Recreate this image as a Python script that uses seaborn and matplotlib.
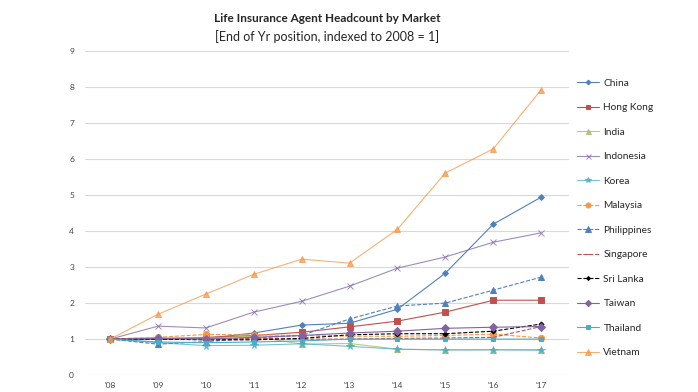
import pandas as pd
import matplotlib
matplotlib.use("Agg")
import matplotlib.pyplot as plt
import seaborn as sns

# years and series (indexed to 2008 = 1)
years = ["'08", "'09", "'10", "'11", "'12", "'13", "'14", "'15", "'16", "'17"]
china = [1.0, 1.0, 1.02, 1.17, 1.39, 1.44, 1.83, 2.83, 4.19, 4.94]
hong_kong = [1.0, 1.0, 1.05, 1.1, 1.19, 1.34, 1.5, 1.75, 2.08, 2.08]
india = [1.0, 1.05, 1.03, 1.08, 0.86, 0.88, 0.72, 0.7, 0.71, 0.71]
indonesia = [1.0, 1.36, 1.31, 1.75, 2.05, 2.47, 2.97, 3.28, 3.69, 3.95]
korea = [1.0, 0.9, 0.82, 0.83, 0.87, 0.8, 0.72, 0.7, 0.7, 0.69]
malaysia = [1.0, 1.05, 1.13, 1.12, 1.1, 1.08, 1.08, 1.1, 1.14, 1.03]
philippines = [1.0, 0.86, 0.93, 1.03, 1.1, 1.56, 1.92, 2.0, 2.36, 2.72]
singapore = [1.0, 1.0, 1.0, 1.02, 1.0, 1.0, 1.02, 1.03, 1.05, 1.35]
sri_lanka = [1.0, 1.0, 0.98, 0.98, 1.02, 1.12, 1.15, 1.15, 1.22, 1.42]
taiwan = [1.0, 1.02, 1.0, 1.05, 1.1, 1.17, 1.22, 1.3, 1.33, 1.35]
thailand = [1.0, 0.92, 0.9, 0.92, 0.95, 1.0, 1.0, 1.0, 1.0, 1.0]
vietnam = [1.0, 1.69, 2.25, 2.8, 3.22, 3.11, 4.05, 5.61, 6.28, 7.92]

markets = ["China", "Hong Kong", "India", "Indonesia", "Korea", "Malaysia",
           "Philippines", "Singapore", "Sri Lanka", "Taiwan", "Thailand", "Vietnam"]
values = [china, hong_kong, india, indonesia, korea, malaysia,
          philippines, singapore, sri_lanka, taiwan, thailand, vietnam]

# colour, marker, marker size, linestyle
styles = {
    "China": ("#4F81BD", "D", 3, "-"),
    "Hong Kong": ("#C0504D", "s", 4, "-"),
    "India": ("#9BBB59", "^", 4.5, "-"),
    "Indonesia": ("#8064A2", "x", 4.5, "-"),
    "Korea": ("#4BACC6", "*", 5.5, "-"),
    "Malaysia": ("#F79646", "o", 4.5, "--"),
    "Philippines": ("#4F81BD", "^", 5, "--"),
    "Singapore": ("#C0504D", "_", 5, "--"),
    "Sri Lanka": ("#000000", "D", 2.5, "--"),
    "Taiwan": ("#8064A2", "D", 4, "-"),
    "Thailand": ("#4BACC6", "s", 3.5, "-"),
    "Vietnam": ("#F79646", "^", 5, "-"),
}

rows = []
for m, vals in zip(markets, values):
    for i, v in enumerate(vals):
        rows.append({"market": m, "x": i, "value": v})
df = pd.DataFrame(rows)

sns.set_style("white")
plt.rcParams["font.family"] = ["Lato", "DejaVu Sans"]

fig = plt.figure(figsize=(6.98, 3.92), dpi=100)
ax = fig.add_axes([0.122, 0.043, 0.693, 0.827])

for m in markets:
    c, mk, ms, ls = styles[m]
    sub = df[df["market"] == m]
    alpha = 0.75 if m in ("Vietnam", "Indonesia", "India", "Korea") else 1.0
    sns.lineplot(data=sub, x="x", y="value", ax=ax, color=c, marker=mk,
                 markersize=ms, linestyle=ls, linewidth=0.8, label=m,
                 markeredgecolor=c, markeredgewidth=0.7, alpha=alpha)

ax.set_xlim(-0.52, 9.58)
ax.set_ylim(0, 9)
ax.set_yticks(range(10))
ax.set_xticks(range(len(years)))
ax.set_xticklabels(years)
ax.tick_params(axis="both", length=0, labelsize=6, colors="#444444")
ax.tick_params(axis="y", pad=8)
ax.tick_params(axis="x", pad=5)
ax.grid(axis="y", color="#d9d9d9", linewidth=0.8)
ax.set_axisbelow(True)
for s in ax.spines.values():
    s.set_visible(False)
ax.set_xlabel("")
ax.set_ylabel("")

ax.text(0.5, 1.10, "Life Insurance Agent Headcount by Market", transform=ax.transAxes,
        ha="center", va="center", fontsize=8.5, fontweight="bold")
ax.text(0.5, 1.045, "[End of Yr position, indexed to 2008 = 1]", transform=ax.transAxes,
        ha="center", va="center", fontsize=9)

handles, labels = ax.get_legend_handles_labels()
ax.legend_.remove()
fig.legend(handles, labels, loc="upper left", bbox_to_anchor=(0.813, 0.823),
           frameon=False, fontsize=7.3, labelspacing=1.52, handlelength=2.2,
           handletextpad=0.45, markerscale=0.8)

fig.savefig("out.png", dpi=100)
